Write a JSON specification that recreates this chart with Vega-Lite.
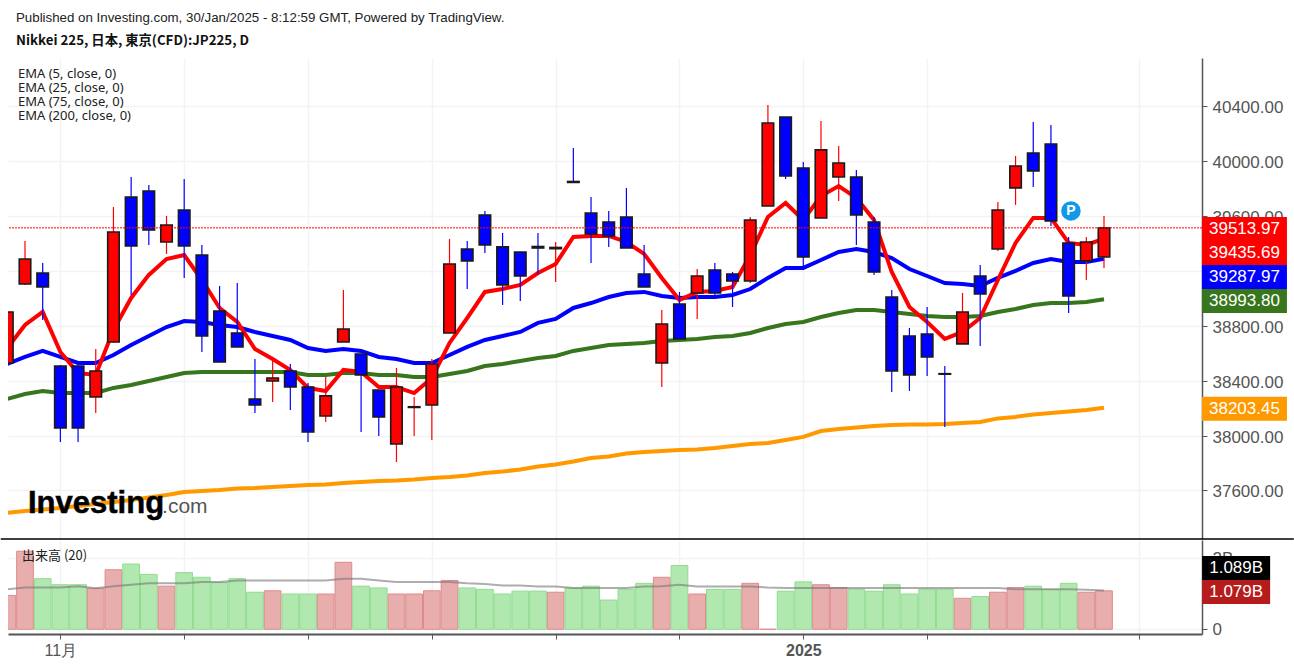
{"$schema":"https://vega.github.io/schema/vega-lite/v6.json","background":"white","padding":{"left":0,"top":11,"right":0,"bottom":0},"autosize":{"type":"pad"},"spacing":0,
"resolve":{"scale":{"color":"independent","fill":"independent","stroke":"independent"},"legend":{"color":"independent"}},
"title":{"text":"Published on Investing.com, 30/Jan/2025 - 8:12:59 GMT, Powered by TradingView.","subtitle":"Nikkei 225, 日本, 東京(CFD):JP225, D","anchor":"start","frame":"group","dx":8,"offset":11,"font":"Liberation Sans","fontSize":13.3,"fontWeight":"normal","color":"#222222","subtitleFont":"Noto Sans CJK JP","subtitleFontWeight":"bold","subtitleFontSize":13.3,"subtitleColor":"#111111","subtitlePadding":9},
"config":{"view":{"stroke":null},"axis":{"gridColor":"#f3f3f3","gridWidth":1.5}},
"datasets":{"bars":[
{"i":-1,"open":38529,"high":38901,"low":38529,"close":38901,"dir":"up","vol":0.95,"volDir":"r","volMA":1.12,"ema5":38638,"ema25":38522,"ema75":38267,"ema200":37436},
{"i":0,"open":39105,"high":39418,"low":39098,"close":39287,"dir":"up","vol":2.19,"volDir":"r","volMA":1.17,"ema5":38806,"ema25":38573,"ema75":38303,"ema200":37450},
{"i":1,"open":39185,"high":39258,"low":38843,"close":39083,"dir":"down","vol":1.42,"volDir":"g","volMA":1.17,"ema5":38901,"ema25":38617,"ema75":38325,"ema200":37461},
{"i":2,"open":38507,"high":38515,"low":37953,"close":38055,"dir":"down","vol":1.25,"volDir":"g","volMA":1.17,"ema5":38609,"ema25":38573,"ema75":38310,"ema200":37472},
{"i":3,"open":38507,"high":38515,"low":37953,"close":38055,"dir":"down","vol":1.25,"volDir":"g","volMA":1.21,"ema5":38456,"ema25":38529,"ema75":38310,"ema200":37487},
{"i":4,"open":38281,"high":38631,"low":38165,"close":38471,"dir":"up","vol":1.15,"volDir":"r","volMA":1.15,"ema5":38442,"ema25":38529,"ema75":38310,"ema200":37501},
{"i":5,"open":38682,"high":39666,"low":38675,"close":39484,"dir":"up","vol":1.67,"volDir":"r","volMA":1.21,"ema5":38770,"ema25":38587,"ema75":38347,"ema200":37516},
{"i":6,"open":39739,"high":39885,"low":39025,"close":39382,"dir":"down","vol":1.83,"volDir":"g","volMA":1.25,"ema5":39003,"ema25":38660,"ema75":38369,"ema200":37530},
{"i":7,"open":39783,"high":39827,"low":39389,"close":39499,"dir":"down","vol":1.54,"volDir":"g","volMA":1.29,"ema5":39171,"ema25":38726,"ema75":38398,"ema200":37549},
{"i":8,"open":39411,"high":39601,"low":39324,"close":39535,"dir":"up","vol":1.21,"volDir":"r","volMA":1.29,"ema5":39287,"ema25":38791,"ema75":38427,"ema200":37567},
{"i":9,"open":39644,"high":39870,"low":39149,"close":39382,"dir":"down","vol":1.59,"volDir":"g","volMA":1.29,"ema5":39316,"ema25":38835,"ema75":38456,"ema200":37589},
{"i":10,"open":39316,"high":39389,"low":38609,"close":38726,"dir":"down","vol":1.46,"volDir":"g","volMA":1.33,"ema5":39134,"ema25":38828,"ema75":38463,"ema200":37596},
{"i":11,"open":38908,"high":39090,"low":38536,"close":38536,"dir":"down","vol":1.31,"volDir":"g","volMA":1.33,"ema5":38930,"ema25":38806,"ema75":38463,"ema200":37603},
{"i":12,"open":38748,"high":39112,"low":38646,"close":38646,"dir":"down","vol":1.42,"volDir":"g","volMA":1.37,"ema5":38828,"ema25":38791,"ema75":38463,"ema200":37614},
{"i":13,"open":38267,"high":38558,"low":38165,"close":38223,"dir":"down","vol":1.04,"volDir":"g","volMA":1.37,"ema5":38631,"ema25":38755,"ema75":38463,"ema200":37618},
{"i":14,"open":38398,"high":38551,"low":38245,"close":38420,"dir":"up","vol":1.08,"volDir":"r","volMA":1.37,"ema5":38558,"ema25":38726,"ema75":38463,"ema200":37625},
{"i":15,"open":38471,"high":38522,"low":38186,"close":38354,"dir":"down","vol":0.99,"volDir":"g","volMA":1.37,"ema5":38478,"ema25":38697,"ema75":38463,"ema200":37633},
{"i":16,"open":38354,"high":38383,"low":37953,"close":38026,"dir":"down","vol":0.99,"volDir":"g","volMA":1.37,"ema5":38347,"ema25":38638,"ema75":38442,"ema200":37640},
{"i":17,"open":38143,"high":38427,"low":38099,"close":38289,"dir":"up","vol":0.99,"volDir":"r","volMA":1.37,"ema5":38325,"ema25":38617,"ema75":38442,"ema200":37644},
{"i":18,"open":38682,"high":39061,"low":38682,"close":38777,"dir":"up","vol":1.88,"volDir":"r","volMA":1.42,"ema5":38478,"ema25":38631,"ema75":38456,"ema200":37655},
{"i":19,"open":38595,"high":38595,"low":38026,"close":38442,"dir":"down","vol":1.21,"volDir":"g","volMA":1.42,"ema5":38463,"ema25":38617,"ema75":38456,"ema200":37662},
{"i":20,"open":38332,"high":38332,"low":37997,"close":38135,"dir":"down","vol":1.16,"volDir":"g","volMA":1.37,"ema5":38354,"ema25":38573,"ema75":38442,"ema200":37669},
{"i":21,"open":37939,"high":38493,"low":37807,"close":38354,"dir":"up","vol":0.99,"volDir":"r","volMA":1.33,"ema5":38354,"ema25":38558,"ema75":38442,"ema200":37673},
{"i":22,"open":38205,"high":38281,"low":37997,"close":38210,"dir":"up","vol":0.99,"volDir":"r","volMA":1.33,"ema5":38310,"ema25":38529,"ema75":38427,"ema200":37680},
{"i":23,"open":38223,"high":38558,"low":37968,"close":38522,"dir":"up","vol":1.08,"volDir":"r","volMA":1.33,"ema5":38420,"ema25":38529,"ema75":38427,"ema200":37691},
{"i":24,"open":38748,"high":39433,"low":38748,"close":39251,"dir":"up","vol":1.37,"volDir":"r","volMA":1.33,"ema5":38675,"ema25":38587,"ema75":38449,"ema200":37698},
{"i":25,"open":39360,"high":39418,"low":39068,"close":39273,"dir":"down","vol":1.16,"volDir":"g","volMA":1.29,"ema5":38857,"ema25":38646,"ema75":38471,"ema200":37709},
{"i":26,"open":39608,"high":39637,"low":39331,"close":39389,"dir":"down","vol":1.12,"volDir":"g","volMA":1.27,"ema5":39047,"ema25":38697,"ema75":38507,"ema200":37727},
{"i":27,"open":39375,"high":39477,"low":38952,"close":39098,"dir":"down","vol":0.99,"volDir":"g","volMA":1.23,"ema5":39068,"ema25":38726,"ema75":38522,"ema200":37738},
{"i":28,"open":39338,"high":39338,"low":38981,"close":39163,"dir":"down","vol":1.07,"volDir":"g","volMA":1.23,"ema5":39098,"ema25":38755,"ema75":38544,"ema200":37753},
{"i":29,"open":39378,"high":39477,"low":39178,"close":39367,"dir":"down","vol":1.07,"volDir":"g","volMA":1.2,"ema5":39185,"ema25":38821,"ema75":38566,"ema200":37775},
{"i":30,"open":39362,"high":39411,"low":39120,"close":39371,"dir":"up","vol":1.04,"volDir":"r","volMA":1.2,"ema5":39251,"ema25":38850,"ema75":38580,"ema200":37789},
{"i":31,"open":39852,"high":40096,"low":39841,"close":39845,"dir":"down","vol":1.16,"volDir":"g","volMA":1.16,"ema5":39448,"ema25":38930,"ema75":38617,"ema200":37811},
{"i":32,"open":39622,"high":39739,"low":39258,"close":39469,"dir":"down","vol":1.21,"volDir":"g","volMA":1.16,"ema5":39455,"ema25":38966,"ema75":38638,"ema200":37837},
{"i":33,"open":39557,"high":39637,"low":39375,"close":39455,"dir":"down","vol":0.82,"volDir":"g","volMA":1.16,"ema5":39455,"ema25":39010,"ema75":38660,"ema200":37848},
{"i":34,"open":39593,"high":39805,"low":39367,"close":39367,"dir":"down","vol":1.12,"volDir":"g","volMA":1.16,"ema5":39411,"ema25":39039,"ema75":38668,"ema200":37869},
{"i":35,"open":39178,"high":39389,"low":39083,"close":39083,"dir":"down","vol":1.29,"volDir":"g","volMA":1.2,"ema5":39324,"ema25":39047,"ema75":38675,"ema200":37880},
{"i":36,"open":38529,"high":38915,"low":38354,"close":38813,"dir":"up","vol":1.46,"volDir":"r","volMA":1.21,"ema5":39149,"ema25":39017,"ema75":38689,"ema200":37888},
{"i":37,"open":38959,"high":39047,"low":38704,"close":38704,"dir":"down","vol":1.79,"volDir":"g","volMA":1.25,"ema5":38988,"ema25":39003,"ema75":38697,"ema200":37895},
{"i":38,"open":39039,"high":39214,"low":38850,"close":39163,"dir":"up","vol":0.99,"volDir":"r","volMA":1.2,"ema5":39047,"ema25":39010,"ema75":38704,"ema200":37899},
{"i":39,"open":39207,"high":39258,"low":39017,"close":39039,"dir":"down","vol":1.12,"volDir":"g","volMA":1.2,"ema5":39054,"ema25":39010,"ema75":38719,"ema200":37910},
{"i":40,"open":39178,"high":39192,"low":38937,"close":39127,"dir":"down","vol":1.12,"volDir":"g","volMA":1.2,"ema5":39083,"ema25":39025,"ema75":38726,"ema200":37924},
{"i":41,"open":39127,"high":39593,"low":39112,"close":39571,"dir":"up","vol":1.29,"volDir":"r","volMA":1.2,"ema5":39316,"ema25":39068,"ema75":38748,"ema200":37939},
{"i":42,"open":39673,"high":40410,"low":39673,"close":40278,"dir":"up","vol":0,"volDir":"r","volMA":1.17,"ema5":39593,"ema25":39149,"ema75":38784,"ema200":37946},
{"i":43,"open":40322,"high":40322,"low":39870,"close":39892,"dir":"down","vol":1.07,"volDir":"g","volMA":1.16,"ema5":39695,"ema25":39222,"ema75":38813,"ema200":37968},
{"i":44,"open":39950,"high":39994,"low":39229,"close":39302,"dir":"down","vol":1.33,"volDir":"g","volMA":1.16,"ema5":39571,"ema25":39222,"ema75":38828,"ema200":37990},
{"i":45,"open":39586,"high":40293,"low":39586,"close":40082,"dir":"up","vol":1.25,"volDir":"r","volMA":1.16,"ema5":39746,"ema25":39280,"ema75":38864,"ema200":38033},
{"i":46,"open":39885,"high":40111,"low":39710,"close":39987,"dir":"up","vol":1.17,"volDir":"r","volMA":1.16,"ema5":39819,"ema25":39338,"ema75":38893,"ema200":38048},
{"i":47,"open":39885,"high":39936,"low":39389,"close":39608,"dir":"down","vol":1.12,"volDir":"g","volMA":1.16,"ema5":39732,"ema25":39360,"ema75":38915,"ema200":38059},
{"i":48,"open":39557,"high":39593,"low":39171,"close":39192,"dir":"down","vol":1.07,"volDir":"g","volMA":1.16,"ema5":39571,"ema25":39338,"ema75":38915,"ema200":38070},
{"i":49,"open":39010,"high":39061,"low":38318,"close":38471,"dir":"down","vol":1.25,"volDir":"g","volMA":1.16,"ema5":39192,"ema25":39294,"ema75":38901,"ema200":38077},
{"i":50,"open":38726,"high":38784,"low":38325,"close":38442,"dir":"down","vol":0.99,"volDir":"g","volMA":1.16,"ema5":38937,"ema25":39214,"ema75":38886,"ema200":38081},
{"i":51,"open":38740,"high":38937,"low":38434,"close":38573,"dir":"down","vol":1.12,"volDir":"g","volMA":1.16,"ema5":38828,"ema25":39163,"ema75":38872,"ema200":38081},
{"i":52,"open":38451,"high":38507,"low":38063,"close":38447,"dir":"down","vol":1.12,"volDir":"g","volMA":1.16,"ema5":38704,"ema25":39112,"ema75":38864,"ema200":38084},
{"i":53,"open":38668,"high":39039,"low":38668,"close":38901,"dir":"up","vol":0.87,"volDir":"r","volMA":1.16,"ema5":38755,"ema25":39105,"ema75":38864,"ema200":38092},
{"i":54,"open":39163,"high":39243,"low":38653,"close":39032,"dir":"down","vol":0.92,"volDir":"g","volMA":1.16,"ema5":38857,"ema25":39090,"ema75":38872,"ema200":38099},
{"i":55,"open":39360,"high":39703,"low":39345,"close":39644,"dir":"up","vol":1.04,"volDir":"r","volMA":1.16,"ema5":39134,"ema25":39149,"ema75":38901,"ema200":38125},
{"i":56,"open":39805,"high":40038,"low":39681,"close":39965,"dir":"up","vol":1.17,"volDir":"r","volMA":1.12,"ema5":39404,"ema25":39200,"ema75":38923,"ema200":38136},
{"i":57,"open":40060,"high":40286,"low":39812,"close":39929,"dir":"down","vol":1.21,"volDir":"g","volMA":1.12,"ema5":39586,"ema25":39258,"ema75":38952,"ema200":38154},
{"i":58,"open":40125,"high":40264,"low":39528,"close":39564,"dir":"down","vol":1.12,"volDir":"g","volMA":1.12,"ema5":39586,"ema25":39287,"ema75":38966,"ema200":38165},
{"i":59,"open":39404,"high":39448,"low":38893,"close":39017,"dir":"down","vol":1.29,"volDir":"g","volMA":1.12,"ema5":39404,"ema25":39265,"ema75":38966,"ema200":38176},
{"i":60,"open":39273,"high":39448,"low":39134,"close":39411,"dir":"up","vol":1.04,"volDir":"r","volMA":1.11,"ema5":39389,"ema25":39265,"ema75":38974,"ema200":38186},
{"i":61,"open":39302,"high":39601,"low":39222,"close":39513.97,"dir":"up","vol":1.079,"volDir":"r","volMA":1.089,"ema5":39435.69,"ema25":39287.97,"ema75":38993.8,"ema200":38203.45}
],
"tags":[{"tag":"last","text":"39513.97","at":39506},{"tag":"ema5","text":"39435.69","at":39331},{"tag":"ema25","text":"39287.97","at":39156},{"tag":"ema75","text":"38993.80","at":38981},{"tag":"ema200","text":"38203.45","at":38196}],
"volTags":[{"tag":"ma","text":"1.089B","at":1.72},{"tag":"vol","text":"1.079B","at":1.046}]
},
"vconcat":[
{"width":1194,"height":481,"data":{"name":"bars"},
"layer":[
{"mark":{"type":"line","strokeWidth":4,"clip":true},"encoding":{"x":{"field":"i","type":"quantitative","scale":{"domain":[-0.961,66.54],"nice":false,"zero":false,"padding":0},"axis":{"orient":"bottom","title":null,"values":[2,9,16,23,30,37,44,51,63],"labels":false,"ticks":false,"domain":false,"grid":true}},"y":{"field":"ema200","type":"quantitative","scale":{"domain":[37246,40752],"nice":false,"zero":false},"axis":{"orient":"right","title":null,"values":[37600,38000,38400,38800,39200,39600,40000,40400],"format":".2f","grid":true,"labelFont":"Liberation Sans","labelFontSize":17,"labelColor":"#555555","labelPadding":5,"labelOffset":1.5,"tickColor":"#555555","tickSize":5,"domainColor":"#555555","domainWidth":1.5}},"color":{"datum":"EMA (200, close, 0)","scale":{"domain":["EMA (5, close, 0)","EMA (25, close, 0)","EMA (75, close, 0)","EMA (200, close, 0)"],"range":["#ff0000","#0000ff","#38761d","#ff9900"]},"legend":{"orient":"none","legendX":-3,"legendY":9,"title":null,"symbolOpacity":0,"symbolSize":0,"symbolStrokeWidth":0,"labelFont":"Noto Sans","labelFontSize":13,"labelColor":"#222222","rowPadding":-0.6,"labelOffset":0,"labelLimit":300}}}},
{"mark":{"type":"line","strokeWidth":4,"clip":true},"encoding":{"x":{"field":"i","type":"quantitative"},"y":{"field":"ema75","type":"quantitative"},"color":{"datum":"EMA (75, close, 0)"}}},
{"mark":{"type":"line","strokeWidth":4,"clip":true},"encoding":{"x":{"field":"i","type":"quantitative"},"y":{"field":"ema25","type":"quantitative"},"color":{"datum":"EMA (25, close, 0)"}}},
{"mark":{"type":"line","strokeWidth":4,"clip":true},"encoding":{"x":{"field":"i","type":"quantitative"},"y":{"field":"ema5","type":"quantitative"},"color":{"datum":"EMA (5, close, 0)"}}},
{"mark":{"type":"rule","strokeWidth":1.2,"clip":true},"encoding":{"x":{"field":"i","type":"quantitative"},"y":{"field":"high","type":"quantitative"},"y2":{"field":"low"},"stroke":{"field":"dir","type":"nominal","scale":{"domain":["up","down"],"range":["#ff0000","#0000ff"]},"legend":null}}},
{"mark":{"type":"bar","size":11.5,"stroke":"#1a1a1a","strokeWidth":1.6,"clip":true},"encoding":{"x":{"field":"i","type":"quantitative"},"y":{"field":"open","type":"quantitative"},"y2":{"field":"close"},"fill":{"field":"dir","type":"nominal","scale":{"domain":["up","down","last","ema5","ema25","ema75","ema200"],"range":["#ff0000","#0000ff","#ff0000","#ff0000","#0000ff","#38761d","#ff9900"]},"legend":null}}},
{"data":{"values":[{"price":39513.97}]},"mark":{"type":"rule","color":"#ff0000","strokeWidth":1,"strokeDash":[2,1]},"encoding":{"y":{"field":"price","type":"quantitative"}}},
{"data":{"values":[{"name":"Investing"}]},"mark":{"type":"text","align":"left","baseline":"alphabetic","font":"Liberation Sans","fontWeight":"bold","fontSize":31,"color":"#000000","stroke":"#000000","strokeWidth":0.5},"encoding":{"x":{"datum":0.17},"y":{"datum":37435},"text":{"field":"name"}}},
{"data":{"values":[{"name":".com"}]},"mark":{"type":"text","align":"left","baseline":"alphabetic","font":"Liberation Sans","fontSize":21,"color":"#555555"},"encoding":{"x":{"datum":7.75},"y":{"datum":37435},"text":{"field":"name"}}},
{"data":{"values":[{"name":"P","i":59.13,"price":39637}]},"mark":{"type":"point","shape":"circle","filled":true,"size":380,"color":"#1198e8","opacity":1},"encoding":{"x":{"field":"i","type":"quantitative"},"y":{"field":"price","type":"quantitative"}}},
{"data":{"values":[{"name":"P","i":59.13,"price":39637}]},"mark":{"type":"text","font":"Liberation Sans","fontWeight":"bold","fontSize":14,"color":"#ffffff"},"encoding":{"x":{"field":"i","type":"quantitative"},"y":{"field":"price","type":"quantitative"},"text":{"field":"name"}}},
{"data":{"name":"tags"},"mark":{"type":"tick","orient":"horizontal","size":85,"thickness":24,"opacity":1},"encoding":{"x":{"datum":68.94},"y":{"field":"at","type":"quantitative"},"fill":{"field":"tag","type":"nominal"}}},
{"data":{"name":"tags"},"mark":{"type":"text","font":"Liberation Sans","fontSize":17,"color":"#ffffff"},"encoding":{"x":{"datum":68.94},"y":{"field":"at","type":"quantitative"},"text":{"field":"text"}}},
{"data":{"values":[{"name":"pane divider"}]},"mark":{"type":"rule","color":"#000000","strokeWidth":1.5},"encoding":{"y":{"datum":37246},"x":{"datum":-1.37},"x2":{"datum":71.73}}}
]},
{"width":1194,"height":94,"data":{"name":"bars"},
"layer":[
{"mark":{"type":"bar","size":16.7,"strokeWidth":1,"clip":true},"encoding":{"x":{"field":"i","type":"quantitative","scale":{"domain":[-0.961,66.54],"nice":false,"zero":false,"padding":0},"axis":{"orient":"bottom","title":null,"values":[2,9,16,23,30,37,44,51,63],"labelExpr":"datum.value==2?'11月':datum.value==44?'2025':''","labelFont":"Liberation Sans","labelFontSize":16,"labelColor":"#555555","labelFontWeight":{"condition":{"test":"datum.value==44","value":"bold"},"value":"normal"},"labelPadding":3,"tickColor":"#555555","tickSize":5,"domainColor":"#555555","domainWidth":2,"grid":true}},"y":{"field":"vol","type":"quantitative","scale":{"domain":[-0.132,2.505],"nice":false,"zero":false},"axis":{"orient":"right","title":null,"values":[0,2],"labelExpr":"datum.value==2?'2B':'0'","grid":true,"labelFont":"Liberation Sans","labelFontSize":17,"labelColor":"#555555","labelPadding":5,"tickColor":"#555555","tickSize":5,"domainColor":"#555555","domainWidth":1.5}},"fill":{"field":"volDir","type":"nominal","scale":{"domain":["r","g","ma","vol"],"range":["#e8aeae","#b0e8b0","#000000","#b71c1c"]},"legend":null},"stroke":{"field":"volDir","type":"nominal","scale":{"domain":["r","g"],"range":["#e08a8a","#8fdc8f"]},"legend":null}}},
{"mark":{"type":"line","strokeWidth":2,"clip":true,"opacity":0.6},"encoding":{"x":{"field":"i","type":"quantitative"},"y":{"field":"volMA","type":"quantitative"},"color":{"datum":"出来高 (20)","scale":{"domain":["出来高 (20)"],"range":["#777777"]},"legend":{"orient":"none","legendX":-3,"legendY":9,"title":null,"symbolOpacity":0,"symbolSize":0,"symbolStrokeWidth":0,"labelFont":"Noto Sans CJK JP","labelFontSize":13,"labelColor":"#222222"}}}},
{"data":{"name":"volTags"},"mark":{"type":"tick","orient":"horizontal","size":68,"thickness":24,"opacity":1},"encoding":{"x":{"datum":68.47},"y":{"field":"at","type":"quantitative"},"fill":{"field":"tag","type":"nominal"}}},
{"data":{"name":"volTags"},"mark":{"type":"text","font":"Liberation Sans","fontSize":17,"color":"#ffffff"},"encoding":{"x":{"datum":68.47},"y":{"field":"at","type":"quantitative"},"text":{"field":"text"}}}
]}
]}
